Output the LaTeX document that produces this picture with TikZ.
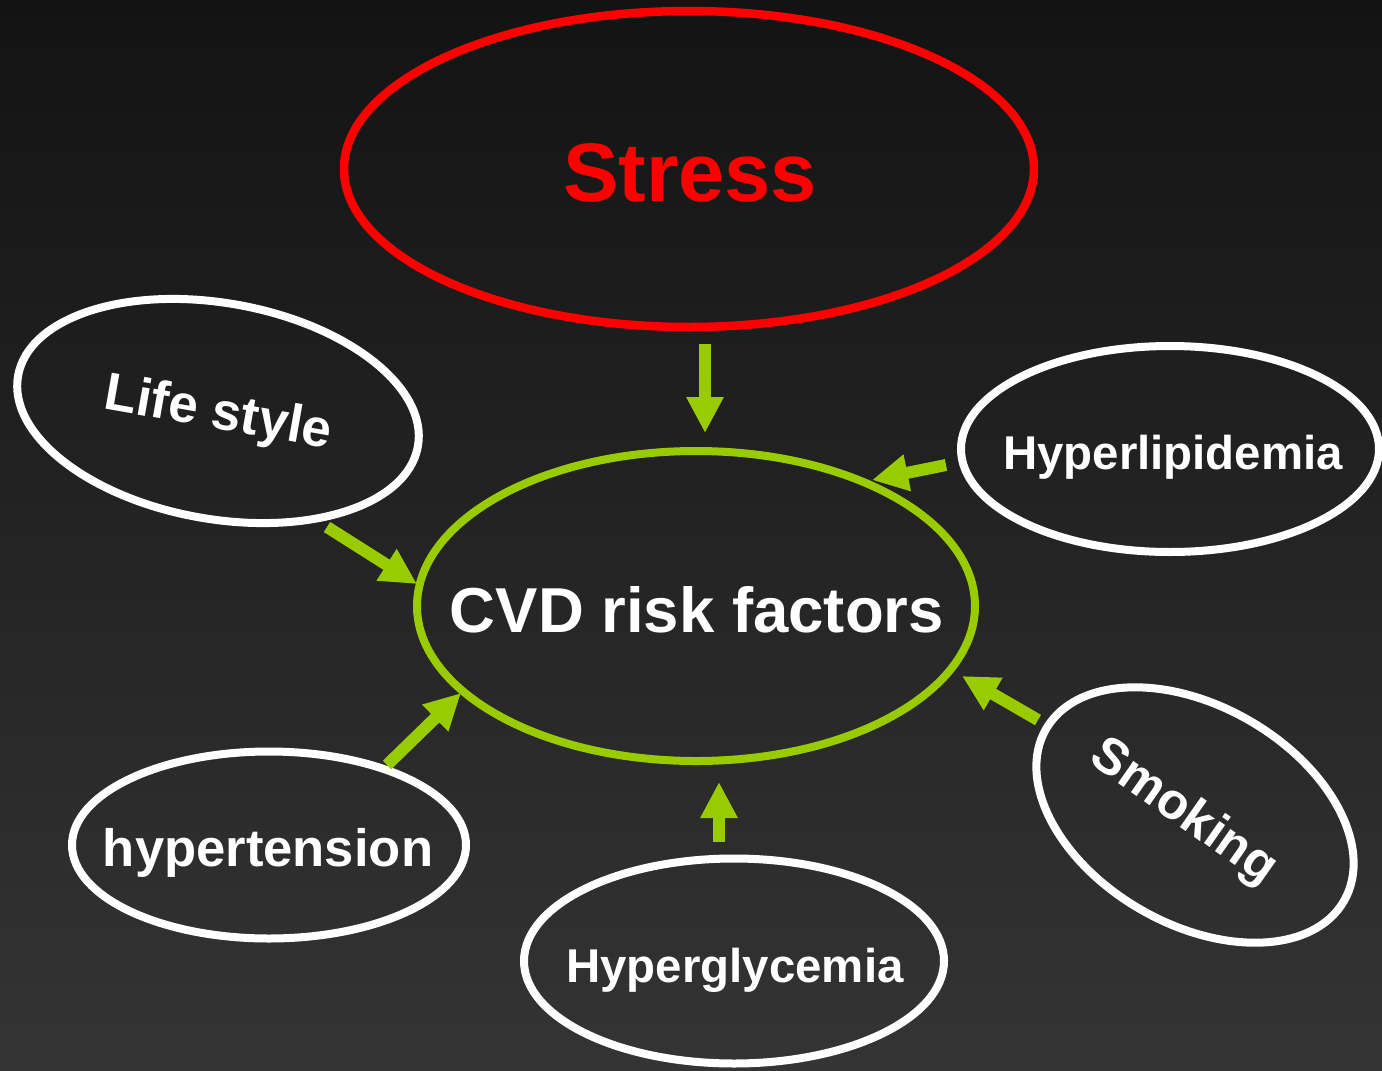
\documentclass[tikz,border=0pt]{standalone}
\usepackage{fontspec}
\setmainfont{Liberation Sans}
\usetikzlibrary{shapes.geometric,arrows.meta}
\definecolor{bgtop}{HTML}{131313}
\definecolor{bgbottom}{HTML}{343434}
\definecolor{cvdgreen}{HTML}{99CC00}
\definecolor{stressred}{HTML}{FF0000}
\tikzset{
  bubble/.style={ellipse, draw=white, line width=4pt, inner sep=0, outer sep=0},
  feed/.style={draw=cvdgreen, line width=6pt, -{Triangle[length=18pt,width=17.5pt]}},
  lbl/.style={text=white, inner sep=0, outer sep=0},
}
\begin{document}
\begin{tikzpicture}[x=0.5pt, y=-0.5pt]
  % background
  \shade[top color=bgtop, bottom color=bgbottom, use as bounding box] (0,0) rectangle (1382,1071);

  \node[bubble, draw=stressred, line width=4.25pt,
    minimum width=345pt,
    minimum height=158pt] (stress) at (689,169) {};
  \node[bubble, draw=cvdgreen,
    minimum width=279pt,
    minimum height=155pt] (cvd) at (696,606) {};
  \node[bubble, rotate=-10,
    minimum width=203pt,
    minimum height=108pt] (life) at (218,411) {};
  \node[bubble,
    minimum width=209pt,
    minimum height=103pt] (lipid) at (1170,449) {};
  \node[bubble, rotate=-30,
    minimum width=172pt,
    minimum height=109pt] (smoke) at (1195,815) {};
  \node[bubble,
    minimum width=197pt,
    minimum height=93.5pt] (tension) at (269,845) {};
  \node[bubble,
    minimum width=210pt,
    minimum height=102.5pt] (glyc) at (734,961) {};

  % texts
  \node[lbl, anchor=base, text=stressred, font=\bfseries\fontsize{41.5}{48}\selectfont] (stresstxt) at (690,201) {Stress};
  \node[lbl, anchor=base, font=\bfseries\fontsize{31.75}{38}\selectfont] (cvdtxt) at (697,632) {CVD risk factors};
  \node[lbl, rotate=-10, font=\bfseries\fontsize{26.5}{32}\selectfont] (lifetxt) at (218,415) {Life style};
  \node[lbl, anchor=base, font=\bfseries\fontsize{23.7}{28}\selectfont] (lipidtxt) at (1173,469) {Hyperlipidemia};
  \node[lbl, rotate=-35, font=\bfseries\fontsize{25.5}{30}\selectfont] (smoketxt) at (1183,813) {Smoking};
  \node[lbl, anchor=base, font=\bfseries\fontsize{26.3}{32}\selectfont] (tensiontxt) at (268,866) {hypertension};
  \node[lbl, anchor=base, font=\bfseries\fontsize{23.7}{28}\selectfont] (glyctxt) at (735,982) {Hyperglycemia};

  % arrows into cvd
  \draw[feed] ([shift={(16,175)}]stress.center) -- ([shift={(9,-173)}]cvd.center);
  \draw[feed] ([shift={(-224,16)}]lipid.center) -- ([shift={(176,-126)}]cvd.center);
  \draw[feed] ([shift={(109,116)}]life.center) -- ([shift={(-279,-22)}]cvd.center);
  \draw[feed] ([shift={(118,-80)}]tension.center) -- ([shift={(-235,87)}]cvd.center);
  \draw[feed] ([shift={(-15,-119)}]glyc.center) -- ([shift={(23,176)}]cvd.center);
  \draw[feed] ([shift={(-157,-95)}]smoke.center) -- ([shift={(266,70)}]cvd.center);
\end{tikzpicture}
\end{document}
